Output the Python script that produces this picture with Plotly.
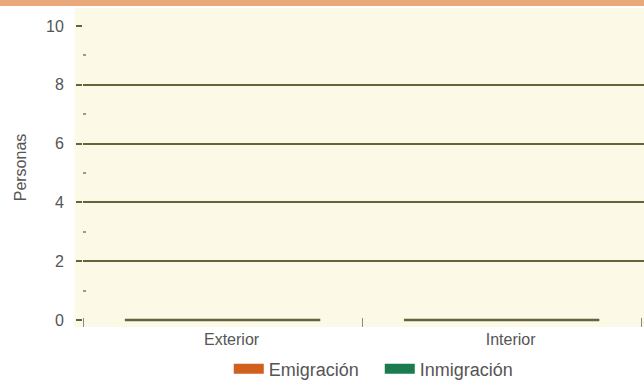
import plotly.graph_objects as go

categories = ["Exterior", "Interior"]
emigracion = [0, 0]
inmigracion = [0, 0]
series_names = ["Emigración", "Inmigración"]
series_colors = ["#D0601E", "#1B7A4E"]
y_tick_values = [0, 2, 4, 6, 8, 10]
grid_values = [2, 4, 6, 8]

positions = list(range(len(categories)))
half = 0.35

OLIVE = "#66623E"
CREAM = "#FCFAE6"
TXT = "#555555"
FONT = "Liberation Sans, Arial, sans-serif"

fig = go.Figure()

for name, vals, col in zip(series_names, [emigracion, inmigracion], series_colors):
    fig.add_trace(go.Bar(name=name, x=positions, y=vals, marker_color=col,
                         width=half, legendgroup=name, showlegend=False))
    # legend swatch (wide rectangle like the original key)
    fig.add_trace(go.Scatter(name=name, x=[None], y=[None], mode="lines",
                             line=dict(color=col, width=13), legendgroup=name,
                             showlegend=True))

# baseline segments under each category
bx, by = [], []
for p in positions:
    bx += [p - half, p + half, None]
    by += [0, 0, None]
fig.add_trace(go.Scatter(x=bx, y=by, mode="lines", showlegend=False,
                         line=dict(color=OLIVE, width=2.4), hoverinfo="skip"))

# gridline-only overlay axis
fig.add_trace(go.Scatter(x=[positions[0]], y=[grid_values[0]], yaxis="y2",
                         mode="markers", marker=dict(opacity=0), showlegend=False,
                         hoverinfo="skip"))

yrange = [-0.24, 10.61]

fig.update_layout(
    width=644, height=383,
    margin=dict(l=83, r=0, t=8, b=56, autoexpand=False),
    paper_bgcolor="white",
    plot_bgcolor=CREAM,
    barmode="group",
    bargap=0.3,
    font=dict(family=FONT, color=TXT, size=16),
    showlegend=True,
    legend=dict(orientation="h", x=0.529, xanchor="center", y=-0.132, yanchor="middle",
                font=dict(size=18, color=TXT), bgcolor="rgba(0,0,0,0)",
                traceorder="normal", itemwidth=30, entrywidth=106,
                entrywidthmode="pixels"),
    xaxis=dict(
        range=[-0.5, 1.51],
        tickmode="array", tickvals=positions, ticktext=categories,
        ticks="", showgrid=False, zeroline=False, showline=False,
        ticklabelshift=9, ticklabelstandoff=1,
        tickfont=dict(size=16, color=TXT),
        minor=dict(tick0=-0.5, dtick=1, ticks="inside", ticklen=9,
                   tickcolor="#8a8a8a", tickwidth=1, showgrid=False),
    ),
    yaxis=dict(
        range=yrange,
        tickmode="array", tickvals=y_tick_values,
        ticks="outside", ticklen=6, tickcolor=OLIVE, tickwidth=1.6,
        showgrid=False, zeroline=False, showline=False,
        ticklabelstandoff=9,
        tickfont=dict(size=16, color=TXT),
        minor=dict(tick0=1, dtick=2, ticks="inside", ticklen=3,
                   tickcolor="#9a9a9a", showgrid=False),
        title=dict(text="Personas", font=dict(size=16, color=TXT), standoff=15),
    ),
    yaxis2=dict(
        range=yrange, overlaying="y", side="left",
        tickmode="array", tickvals=grid_values,
        showticklabels=False, ticks="",
        showgrid=True, gridcolor=OLIVE, gridwidth=1.6,
        zeroline=False, showline=False,
    ),
    shapes=[
        dict(type="rect", xref="paper", yref="paper", x0=-0.015, x1=1.0, y0=0, y1=1,
             fillcolor=CREAM, line=dict(width=0), layer="below"),
        dict(type="rect", xref="paper", yref="paper", x0=-0.2, x1=1.0,
             y0=1.006, y1=1.03, fillcolor="#E9A87A", line=dict(width=0), layer="above"),
    ],
)

fig.write_html("out.html", config={"displayModeBar": False},
               post_script="document.body.style.margin='0';document.body.style.padding='0';")
